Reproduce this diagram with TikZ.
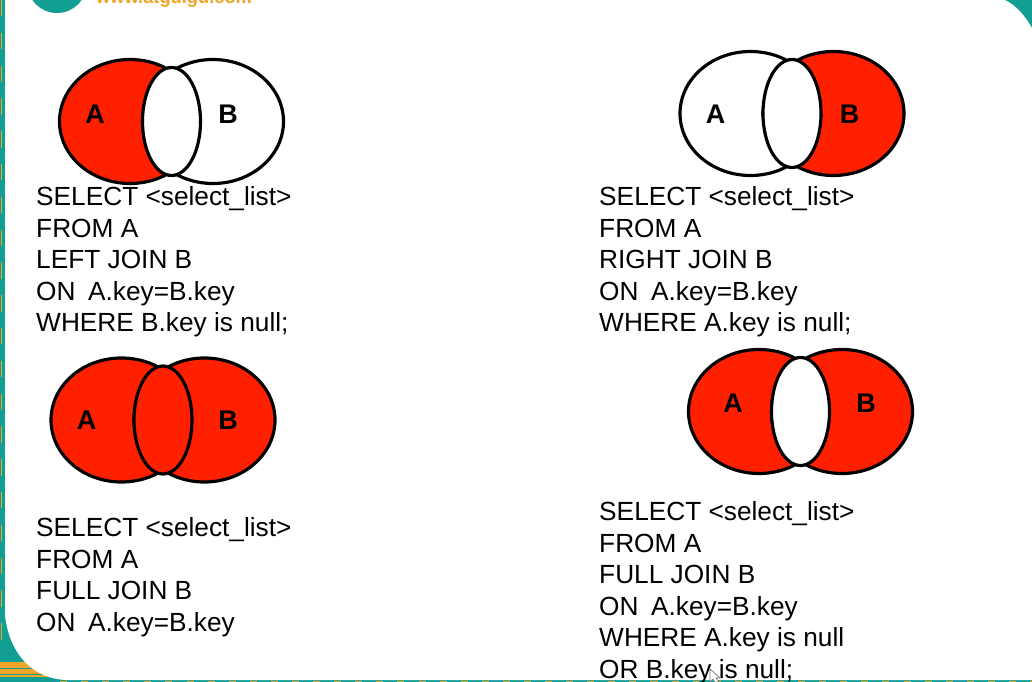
\documentclass[tikz,border=0pt]{standalone}
\usepackage{fontspec}
\setmainfont{Liberation Sans}
\usepackage{xcolor}
\usepackage{tikz}
\definecolor{vennred}{RGB}{255,32,0}
\definecolor{slideteal}{RGB}{18,158,146}
\definecolor{slideorange}{RGB}{240,165,40}
\tikzset{
	venn/.style={draw=black,line width=0.95mm},
	setname/.style={font=\fontsize{23}{23}\selectfont\bfseries,inner sep=0pt},
	query/.style={font=\fontsize{22.4}{26.9}\selectfont,align=left,anchor=north west,inner sep=0pt}
}

\begin{document}
\begin{tikzpicture}[x=0.03cm,y=-0.03cm]
	\def\rx{70.5}
	\def\ry{62}
	\def\gap{83}
	\def\lensx{41.5}
	\def\onkey{ON\hspace{10.7pt}A.key=B.key}
\useasboundingbox (0,0) rectangle (1032,682);
\clip (0,0) rectangle (1032,682);

%Fond de la diapositive
\fill[slideteal] (0,0) rectangle (1032,682);
\fill[slideorange] (0,662) rectangle (70,677);
\foreach \ypos in {668,674,679} {
	\draw[slideteal,line width=0.3mm] (0,\ypos) -- (150,\ypos);
}
\draw[slideorange,line width=0.3mm,dash pattern=on 6pt off 12pt] (60,681) -- (1032,681);
\draw[slideorange,line width=0.2mm,dash pattern=on 14pt off 14pt] (1.5,0) -- (1.5,640);
\fill[white] (5,-40) -- (5,615) .. controls (8,645) and (25,677) .. (65,680) -- (1032,680) -- (1032,28) .. controls (1025,16) and (1017,6) .. (1005,0) -- (1000,-40) -- cycle;

%Logo
\fill[slideteal] (57,-17) circle (30);
\node[text=slideorange,font=\fontsize{15.6}{16}\selectfont\bfseries,anchor=west,inner sep=0pt] (logo) at (96,-1) {www.atguigu.com};

%Cercles : A seul
\begin{scope}[shift={(130,121.5)}]
	\filldraw[venn,fill=vennred] (0,0) ellipse ({\rx} and {\ry});
	\filldraw[venn,fill=white] (\gap,0) ellipse ({\rx} and {\ry});
	\filldraw[venn,fill=white] (\lensx,0) ellipse (29 and 54);
	\node[setname] (a1) at (-35,-7) {A};
	\node[setname] (b1) at (98,-7) {B};
\end{scope}

%Cercles : B seul
\begin{scope}[shift={(750.5,113.5)}]
	\filldraw[venn,fill=white] (0,0) ellipse ({\rx} and {\ry});
	\filldraw[venn,fill=vennred] (\gap,0) ellipse ({\rx} and {\ry});
	\filldraw[venn,fill=white] (\lensx,0) ellipse (29 and 54);
	\node[setname] (a2) at (-35,1) {A};
	\node[setname] (b2) at (99,1) {B};
\end{scope}

%Cercles : A et B
\begin{scope}[shift={(121.5,420)}]
	\filldraw[venn,fill=vennred] (0,0) ellipse ({\rx} and {\ry});
	\filldraw[venn,fill=vennred] (\gap,0) ellipse ({\rx} and {\ry});
	\filldraw[venn,fill=vennred] (\lensx,0) ellipse (29 and 54);
	\node[setname] (a3) at (-35,0) {A};
	\node[setname] (b3) at (106.5,0) {B};
\end{scope}

%Cercles : A et B sans l'intersection
\begin{scope}[shift={(759,411.5)}]
	\filldraw[venn,fill=vennred] (0,0) ellipse ({\rx} and {\ry});
	\filldraw[venn,fill=vennred] (\gap,0) ellipse ({\rx} and {\ry});
	\filldraw[venn,fill=white] (\lensx,0) ellipse (29 and 54);
	\node[setname] (a4) at (-26,-8) {A};
	\node[setname] (b4) at (107,-8) {B};
\end{scope}

%Requetes
\node[query] (q1) at (36,186.5) {SELECT <select\_list>\\FROM A\\LEFT JOIN B\\\onkey\\WHERE B.key is null;};
\node[query] (q2) at (599,186.5) {SELECT <select\_list>\\FROM A\\RIGHT JOIN B\\\onkey\\WHERE A.key is null;};
\node[query] (q3) at (36,517.5) {SELECT <select\_list>\\FROM A\\FULL JOIN B\\\onkey};
\node[query] (q4) at (599,501.5) {SELECT <select\_list>\\FROM A\\FULL JOIN B\\\onkey\\WHERE A.key is null\\OR B.key is null;};

%Curseur
\filldraw[fill=white,draw=black!55,line width=0.2mm] (710,669) -- (710,682) -- (713,679) -- (715,682) -- (719,682) -- (716,678) -- (720,678) -- cycle;
\end{tikzpicture}
\end{document}
